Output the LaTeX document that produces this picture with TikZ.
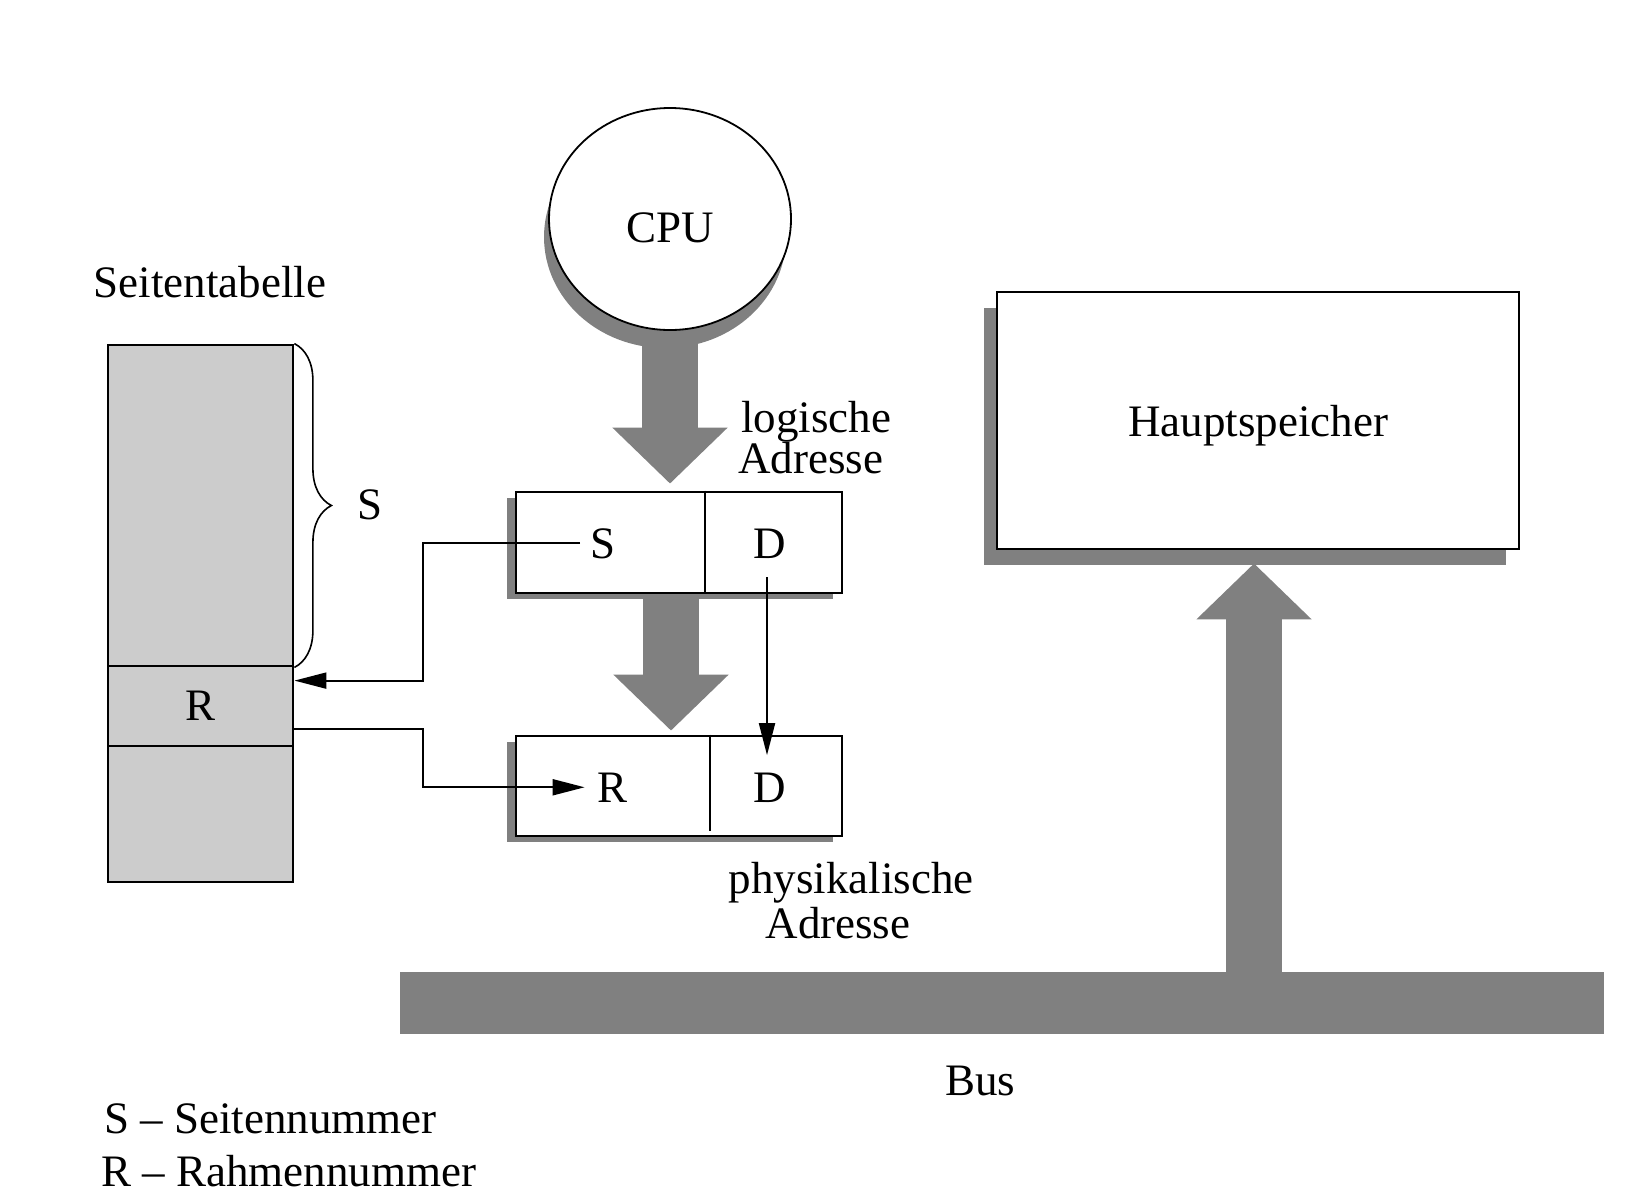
\documentclass[tikz,border=0pt]{standalone}
\usepackage{fontspec}
\setmainfont{Liberation Serif}
\usetikzlibrary{arrows.meta,shapes.geometric,shadows,decorations.pathreplacing,calc,backgrounds}
\definecolor{argray}{HTML}{808080}
\definecolor{tabgray}{HTML}{CCCCCC}
\begin{document}
\begin{tikzpicture}[x=0.5pt,y=-0.5pt,
  every node/.style={font=\fontsize{22.5}{27}\selectfont, inner sep=0pt, text depth=0pt},
  bigarrow/.style={draw=argray, line width=28pt, -{Triangle[length=28pt,width=56pt]}},
  conn/.style={line width=1pt},
  conntip/.style={conn, -{Triangle[length=16pt,width=8pt]}},
  addrbox/.style={draw, line width=1.4pt, fill=white, minimum width=163pt, minimum height=50.5pt,
    drop shadow={shadow xshift=-4.5pt, shadow yshift=-3pt, fill=argray, opacity=1}},
  tabcell/.style={draw, line width=1.4pt, fill=tabgray, minimum width=92.5pt},
  lbl/.style={anchor=base},
  lblw/.style={anchor=base west}]
\path[use as bounding box] (0,0) rectangle (1641,1200);

% CPU
\node[ellipse, draw, line width=0.9pt, fill=white, minimum width=121pt, minimum height=111pt,
  text height=23.5pt,
  drop shadow={shadow xshift=-2.5pt, shadow yshift=-9pt, fill=argray, opacity=1}] (cpu) at (670,219) {CPU};

% logical address
\node[addrbox] (la) at (679,542.5) {};
\node[lbl] (ls) at (603,558) {S};
\node[lbl] (ld) at (770,558) {D};
\draw[line width=1pt] ($(la.north west)+(190,0)$) -- ($(la.south west)+(190,0)$);
\node[lblw] (lab1) at (741,432) {logische};
\node[lblw] (lab2) at (738,473) {Adresse};

% physical address
\node[addrbox, minimum height=50pt] (pa) at (679,786) {};
\node[lbl] (pr) at (612,802) {R};
\node[lbl] (pd) at (770,802) {D};
\draw[line width=1pt] ($(pa.north west)+(195,0)$) -- ($(pa.south west)+(195,-6)$);
\node[lbl] (pab1) at (851,893) {physikalische};
\node[lbl] (pab2) at (838,938) {Adresse};

% page table
\node[lbl] (pttitle) at (210,297) {Seitentabelle};
\node[tabcell, minimum height=160.5pt] (ptop) at (200.5,505.5) {};
\node[tabcell, minimum height=40pt] (ptr) at (200.5,706) {R};
\node[tabcell, minimum height=68pt] (pbot) at (200.5,814) {};
\draw[line width=0.8pt, decorate, decoration={brace, amplitude=18.5pt}]
  (ptop.north east) -- (ptop.south east);
\node[lbl] (slbl) at (370,519) {S};

% main memory
\node[draw, line width=1.4pt, fill=white, minimum width=261pt, minimum height=128.5pt,
  drop shadow={shadow xshift=-6.5pt, shadow yshift=-8pt, fill=argray, opacity=1}] (hs) at (1258,420.5) {Hauptspeicher};

% bus
\node[fill=argray, minimum width=602pt, minimum height=31pt] (bus) at (1002,1003) {};
\node[lbl] (buslbl) at (980,1095) {Bus};
\coordinate (upstart) at (1254,973);

% legend
\node[lblw] (leg1) at (104,1133) {S -- Seitennummer};
\node[lblw] (leg2) at (101,1186) {R -- Rahmennummer};

% big gray arrows
\begin{scope}[on background layer]
  \draw[bigarrow, shorten >=3.5pt] (cpu.center) -- (cpu.center |- la.north);
  \draw[bigarrow, shorten >=2pt] ($(la.south)+(-8,0)$) -- ($(pa.north)+(-8,0)$);
  \draw[bigarrow, shorten >=6.5pt] (upstart) -- (upstart |- hs.south);
\end{scope}

% thin connectors
\coordinate (jx) at (423,0);
\coordinate (tabin) at ($(ptr.north east)+(0,16)$);
\coordinate (tabout) at ($(ptr.east)+(0,23)$);
\coordinate (prin) at ([xshift=-6pt]pr.west);
\draw[conntip] ([xshift=-5pt]ls.west) -| (jx |- tabin) -- (tabin);
\draw[conntip] (tabout) -| (jx |- prin) -- (prin);
\draw[conntip] ([xshift=-1.5pt,yshift=-9.5pt]ld.south) -- ([xshift=-1.5pt,yshift=8.5pt]pd.north);
\end{tikzpicture}
\end{document}
